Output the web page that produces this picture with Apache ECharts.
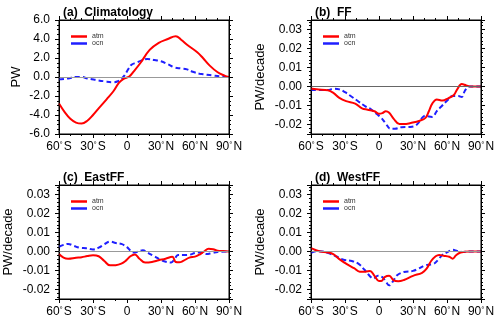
<!DOCTYPE html>
<html>
<head>
<meta charset="utf-8">
<script src="https://cdn.jsdelivr.net/npm/echarts@6/dist/echarts.min.js"></script>
<style>
  html, body { margin: 0; padding: 0; background: #fff; }
  #wrap { position: relative; width: 500px; height: 324px; }
  #chart, #frame { position: absolute; left: 0; top: 0; width: 500px; height: 324px; }
  #frame { pointer-events: none; }
  #err { position: absolute; left: 0; top: 150px; font: 9px monospace; color: #c00; white-space: pre-wrap; }
</style>
</head>
<body>
<div id="wrap">
  <div id="chart"></div>
  <div id="frame"></div>
  <div id="err"></div>
</div>
<script>
// latitude (deg, S < 0) vs transport
const aAtm = [[-60,-2.8],[-55,-3.7],[-50,-4.4],[-45,-4.8],[-40,-4.9],[-35,-4.6],[-30,-4.0],[-25,-3.3],[-18,-2.35],[-12,-1.5],[-7,-0.6],[-3,-0.2],[2,0.05],[6,0.6],[12,1.5],[20,2.85],[28,3.6],[36,4.0],[43,4.3],[48,3.9],[53,3.4],[62,2.6],[67,2.0],[73,1.2],[80,0.5],[86,0.15],[90,0]]
const aOcn = [[-60,-0.25],[-52,-0.15],[-45,0.0],[-40,0.0],[-35,-0.15],[-28,-0.3],[-20,-0.45],[-12,-0.55],[-8,-0.45],[-5,-0.2],[-2,0.2],[1,0.8],[4,1.3],[8,1.5],[13,1.75],[18,1.9],[24,1.8],[30,1.65],[36,1.35],[42,1.0],[48,0.9],[53,0.8],[58,0.55],[64,0.35],[70,0.25],[76,0.15],[83,0.05],[90,0]]

const bAtm = [[-60,-0.001],[-55,-0.0015],[-45,-0.002],[-40,-0.0035],[-35,-0.006],[-29,-0.0077],[-21,-0.009],[-15,-0.0115],[-10,-0.0122],[-4,-0.013],[0,-0.0144],[3,-0.014],[6,-0.013],[9,-0.0138],[13,-0.017],[18,-0.0198],[22,-0.0198],[28,-0.0192],[36,-0.018],[41,-0.0165],[44,-0.013],[47,-0.009],[51,-0.0068],[56,-0.0074],[61,-0.0062],[66,-0.0045],[69,-0.0015],[73,0.0013],[77,0.0006],[81,0],[90,0]]
const bOcn = [[-60,-0.0018],[-45,-0.0018],[-40,-0.0012],[-35,-0.0015],[-30,-0.003],[-25,-0.005],[-19,-0.0075],[-12,-0.0105],[-7,-0.012],[-2,-0.0145],[2,-0.0165],[6,-0.0195],[10,-0.0222],[14,-0.0222],[20,-0.0214],[26,-0.0213],[31,-0.021],[35,-0.019],[38,-0.0165],[41,-0.0153],[44,-0.0158],[47,-0.016],[51,-0.013],[55,-0.0105],[60,-0.0075],[65,-0.005],[70,-0.005],[73,-0.0055],[76,-0.002],[80,0],[90,0]]

const cAtm = [[-60,-0.0013],[-56,-0.0032],[-52,-0.0038],[-45,-0.0033],[-40,-0.003],[-35,-0.0024],[-30,-0.002],[-25,-0.0025],[-20,-0.005],[-15,-0.0073],[-10,-0.0072],[-5,-0.0064],[-1,-0.0048],[3,-0.0025],[7,-0.0016],[11,-0.0038],[16,-0.0058],[22,-0.0055],[28,-0.0046],[34,-0.0038],[40,-0.0028],[43,-0.0055],[46,-0.0057],[50,-0.0048],[55,-0.0032],[60,-0.0027],[64,-0.0016],[68,0],[72,0.0014],[76,0.0012],[80,0.0004],[85,0.0002],[90,0]]
const cOcn = [[-60,0.0025],[-56,0.0035],[-52,0.004],[-47,0.003],[-42,0.002],[-36,0.0017],[-30,0.0011],[-25,0.002],[-20,0.0038],[-15,0.0052],[-10,0.0045],[-5,0.004],[0,0.0023],[3,0.0005],[6,-0.0005],[10,0],[14,0.0006],[18,-0.0005],[24,-0.0025],[30,-0.0045],[35,-0.0055],[39,-0.0058],[42,-0.004],[45,-0.0018],[50,-0.0018],[55,-0.0017],[60,-0.0008],[65,-0.0005],[70,-0.0013],[75,-0.0008],[80,-0.0002],[90,0]]

const dAtm = [[-60,0.0018],[-56,0.0008],[-52,0],[-45,-0.0005],[-40,-0.0015],[-35,-0.004],[-28,-0.0068],[-22,-0.0088],[-17,-0.0106],[-12,-0.0106],[-8,-0.0102],[-4,-0.0128],[0,-0.0155],[2,-0.0155],[5,-0.0135],[9,-0.0128],[13,-0.0152],[17,-0.0157],[22,-0.015],[30,-0.0128],[38,-0.0112],[42,-0.009],[46,-0.005],[50,-0.0025],[53,-0.0018],[57,-0.0022],[62,-0.0028],[65,-0.0038],[68,-0.002],[72,-0.0005],[80,0],[90,0]]
const dOcn = [[-60,-0.0007],[-55,0.0001],[-50,0],[-44,-0.001],[-38,-0.0025],[-32,-0.0042],[-24,-0.005],[-18,-0.0065],[-13,-0.0095],[-8,-0.013],[-5,-0.0142],[-1,-0.0128],[3,-0.0135],[6,-0.0158],[9,-0.0178],[12,-0.016],[16,-0.0125],[22,-0.0108],[30,-0.0102],[35,-0.009],[41,-0.0072],[48,-0.0066],[52,-0.0045],[56,-0.0018],[60,-0.0005],[65,0.0009],[69,0.0003],[74,-0.0003],[80,0],[90,0]]

const titles = ['(a)  Climatology', '(b)  FF', '(c)  EastFF', '(d)  WestFF']
const yNames = ['PW', 'PW/decade', 'PW/decade', 'PW/decade']

const panels = [
  { atm: aAtm, ocn: aOcn, left: 59, top: 20, ymin: -6, ymax: 6, dec: 1, gap: 36, zero: '#999' },
  { atm: bAtm, ocn: bOcn, left: 311, top: 20, ymin: -0.025, ymax: 0.035, dec: 2, gap: 44, zero: '#666' },
  { atm: cAtm, ocn: cOcn, left: 59, top: 185, ymin: -0.025, ymax: 0.035, dec: 2, gap: 44, zero: '#999' },
  { atm: dAtm, ocn: dOcn, left: 311, top: 185, ymin: -0.025, ymax: 0.035, dec: 2, gap: 44, zero: '#999' },
]

const font = 'Liberation Sans, Arial, Helvetica, sans-serif'
const black = '#000'
const report = (e) => { document.getElementById('err').textContent += (e && e.message ? e.message : e) + '\n' }
window.addEventListener('error', (ev) => report(ev.message))

const latLabel = (v) => {
  if (v === 0) return '0'
  return Math.abs(v) + '{d|°}' + (v < 0 ? 'S' : 'N')
}

// y-axis scale settings shared by both chart layers
const yScale = (p, g) => {
  const isA = g === 0
  return {
    type: 'value', gridIndex: g, min: p.ymin, max: p.ymax,
    interval: isA ? 2 : undefined, splitNumber: isA ? undefined : 6,
    splitLine: { show: false },
    axisLine: { show: true, onZero: false, lineStyle: { color: black, width: 1 } },
    axisTick: { show: true, length: 4, lineStyle: { color: black } },
    minorTick: { show: true, splitNumber: isA ? 4 : 5, length: 2, lineStyle: { color: black } },
  }
}
const xScale = (g) => ({
  type: 'value', gridIndex: g, min: -60, max: 90, interval: 30,
  axisLine: { show: true, onZero: false, lineStyle: { color: black, width: 1 } },
  axisTick: { show: true, length: 4, lineStyle: { color: black } },
  minorTick: { show: true, splitNumber: 3, length: 2, lineStyle: { color: black } },
  splitLine: { show: false },
})
const gridBox = (p) => ({ left: p.left, top: p.top, width: 170, height: 114 })

// main layer: labels, curves, titles, legends
try {
  const grid = [], xAxis = [], yAxis = [], series = [], title = [], legend = []
  panels.forEach((p, g) => {
    grid.push(gridBox(p))
    title.push({
      text: titles[g], left: p.left - 1, top: p.top - 18,
      textStyle: { fontFamily: font, fontSize: 12, fontWeight: 'bold', color: black },
    })
    legend.push({
      data: ['atm', 'ocn'], orient: 'vertical', left: p.left + 7, top: p.top + 8,
      icon: 'rect', itemWidth: 16, itemHeight: 2.5, itemGap: 0,
      textStyle: { fontFamily: font, fontSize: 7, lineHeight: 6, color: '#333' },
    })
    xAxis.push({
      ...xScale(g), position: 'bottom',
      axisLabel: {
        margin: 7, fontFamily: font, fontSize: 12, color: black, formatter: latLabel,
        rich: { d: { fontSize: 8, verticalAlign: 'top', padding: [0, 1, 4, 0], color: black } },
      },
    })
    yAxis.push({
      ...yScale(p, g), position: 'left',
      axisLabel: {
        margin: 9, fontFamily: font, fontSize: 12, color: black,
        showMinLabel: g === 0, showMaxLabel: g === 0,
        formatter: (v) => (+v).toFixed(p.dec),
      },
      name: yNames[g], nameLocation: 'middle', nameGap: p.gap,
      nameTextStyle: { fontFamily: font, fontSize: 13, color: black },
    })
    series.push({
      name: 'ocn', type: 'line', xAxisIndex: g, yAxisIndex: g,
      data: p.ocn, smooth: 0.4, showSymbol: false, color: '#1f1fff',
      lineStyle: { width: 2, type: [5, 3], color: '#1f1fff' },
      markLine: {
        silent: true, symbol: 'none', label: { show: false },
        lineStyle: { color: p.zero, width: 1.2, type: 'solid' },
        data: [{ yAxis: 0 }],
      },
    })
    series.push({
      name: 'atm', type: 'line', xAxisIndex: g, yAxisIndex: g,
      data: p.atm, smooth: 0.4, showSymbol: false, color: '#ff0000',
      lineStyle: { width: 2, color: '#ff0000' },
    })
  })
  const chart = echarts.init(document.getElementById('chart'))
  chart.setOption({ animation: false, title, legend, grid, xAxis, yAxis, series })
} catch (e) { report(e) }

// frame layer on top: box, top and right axes with their ticks
try {
  const grid = [], xAxis = [], yAxis = [], series = []
  panels.forEach((p, g) => {
    grid.push({ ...gridBox(p), show: true, borderColor: black, borderWidth: 1 })
    xAxis.push({ ...xScale(g), position: 'top', axisLabel: { show: false } })
    yAxis.push({ ...yScale(p, g), position: 'right', axisLabel: { show: false } })
    series.push({ type: 'line', xAxisIndex: g, yAxisIndex: g, data: [], silent: true })
  })
  const frame = echarts.init(document.getElementById('frame'))
  frame.setOption({ animation: false, grid, xAxis, yAxis, series })
} catch (e) { report(e) }
</script>
</body>
</html>
